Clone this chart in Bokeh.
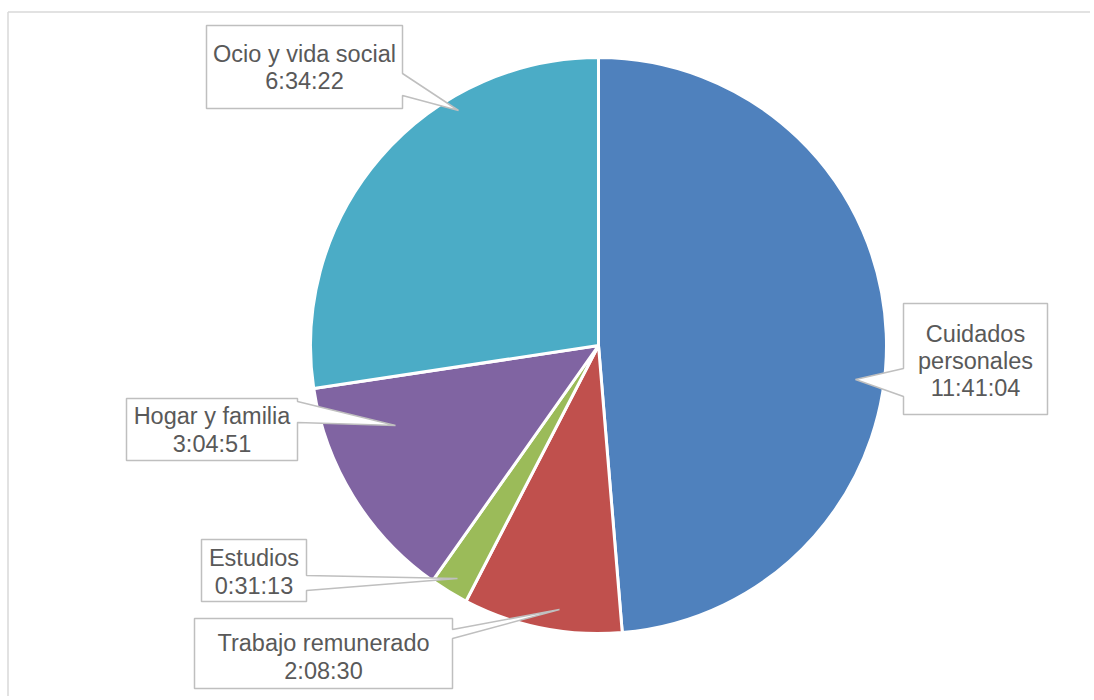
import math
from bokeh.plotting import figure
from bokeh.models import Range1d, ColumnDataSource
from bokeh.embed import file_html
from bokeh.resources import INLINE
from bokeh.core.properties import value

# ---- data ----
categories = ["Cuidados personales", "Trabajo remunerado", "Estudios", "Hogar y familia", "Ocio y vida social"]
times = ["11:41:04", "2:08:30", "0:31:13", "3:04:51", "6:34:22"]
colors = ["#4F81BD", "#C0504D", "#9BBB59", "#8064A2", "#4BACC6"]


def to_sec(t):
    h, m, s = map(int, t.split(":"))
    return h * 3600 + m * 60 + s


values = [to_sec(t) for t in times]

# ---- layout (page pixel coordinates) ----
W, H = 1090, 696


def Y(py):
    return H - py


CX, CY, R = 598, 345, 288

# label text lines per category and their positions
label_lines = [
    ["Cuidados", "personales"],
    ["Trabajo remunerado"],
    ["Estudios"],
    ["Hogar y familia"],
    ["Ocio y vida social"],
]
label_x = [975, 323, 253.5, 211.5, 304]
label_y = [[333, 360, 387], [642, 670], [557, 585], [415, 443], [53, 80]]

callouts = [
    [(903, 303), (1047, 303), (1047, 414), (903, 414), (903, 396), (855, 379), (903, 368)],
    [(194, 618), (452, 618), (452, 629), (559, 609), (452, 638), (452, 688), (194, 688)],
    [(201, 539), (306, 539), (306, 575), (457, 578), (306, 590), (306, 601), (201, 601)],
    [(126, 398), (297, 398), (297, 401), (395, 425), (297, 422), (297, 460), (126, 460)],
    [(206, 25), (402, 25), (402, 73), (458, 110), (402, 95), (402, 108), (206, 108)],
]

p = figure(width=W, height=H, x_range=Range1d(0, W), y_range=Range1d(0, H),
           output_backend="svg", toolbar_location=None, min_border=0)
p.axis.visible = False
p.grid.visible = False
p.outline_line_color = None
p.background_fill_color = "white"
p.border_fill_color = "white"

# outer chart frame (top and left visible)
p.line([7.5, 1200], [Y(11.5), Y(11.5)], line_color="#D9D9D9", line_width=1.5)
p.line([7.5, 7.5], [Y(11.5), Y(800)], line_color="#D9D9D9", line_width=1.5)

# pie wedges: clockwise from 12 o'clock
total = float(sum(values))
cum = 0.0
starts, ends = [], []
for v in values:
    a0 = math.pi / 2 - 2 * math.pi * cum / total
    cum += v
    a1 = math.pi / 2 - 2 * math.pi * cum / total
    starts.append(a1)
    ends.append(a0)

src = ColumnDataSource(dict(start=starts, end=ends, color=colors, cat=categories, t=times))
p.wedge(x=CX, y=Y(CY), radius=R, start_angle="start", end_angle="end", source=src,
        fill_color="color", line_color="white", line_width=3, direction="anticlock")

# callout boxes
xs = [[pt[0] for pt in c] for c in callouts]
ys = [[Y(pt[1]) for pt in c] for c in callouts]
p.patches(xs, ys, fill_color="white", line_color="#BFBFBF", line_width=1.5)

# label texts
tx, ty, tt = [], [], []
for i in range(len(categories)):
    lines = label_lines[i] + [times[i]]
    for j, ln in enumerate(lines):
        tx.append(label_x[i])
        ty.append(Y(label_y[i][j]))
        tt.append(ln)
p.text(x=tx, y=ty, text=tt, text_align="center", text_baseline="middle",
       text_font=value("Liberation Sans"), text_font_size="23.5px", text_color="#595959")

open("out.html", "w").write(file_html(p, INLINE))
